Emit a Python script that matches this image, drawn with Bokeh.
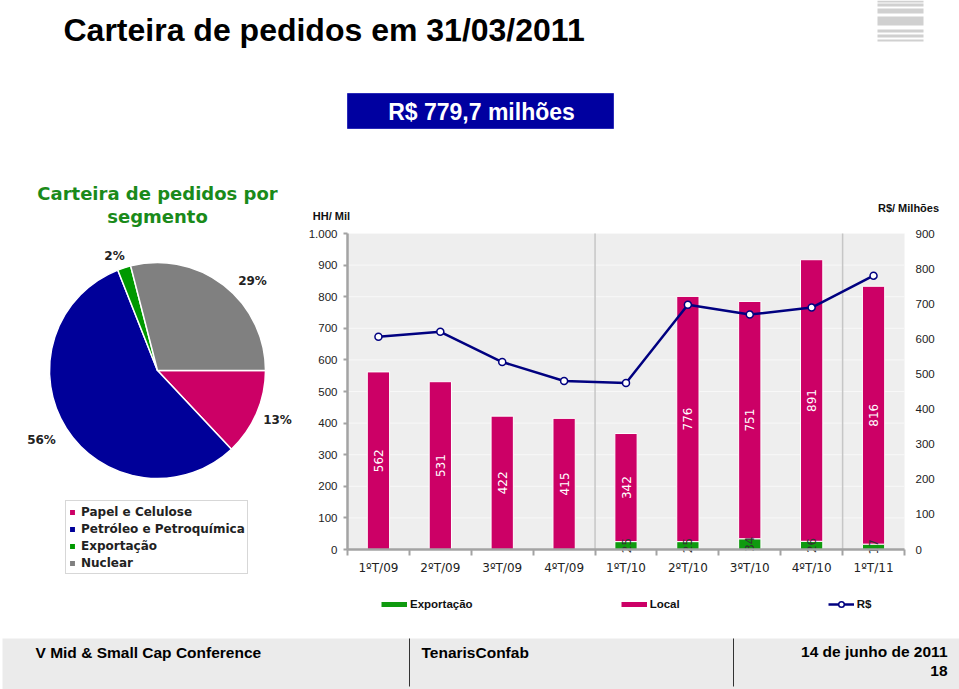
import math
from bokeh.plotting import figure
from bokeh.models import (Range1d, LinearAxis, FixedTicker, Legend, LegendItem,
                          ColumnDataSource)
from bokeh.embed import file_html
from bokeh.resources import INLINE
from bokeh.core.properties import value

# ---------------- data ----------------
page_title = "Carteira de pedidos em 31/03/2011"
banner_text = "R$ 779,7 milhões"

pie_title_lines = ["Carteira de pedidos por", "segmento"]
segments = ["Papel e Celulose", "Petróleo e Petroquímica", "Exportação", "Nuclear"]
segment_pct = [13, 56, 2, 29]
segment_colors = ["#cc0066", "#000099", "#009900", "#808080"]

quarters = ["1ºT/09", "2ºT/09", "3ºT/09", "4ºT/09", "1ºT/10",
            "2ºT/10", "3ºT/10", "4ºT/10", "1ºT/11"]
hh_export = [0, 0, 0, 0, 25, 25, 34, 26, 17]
hh_local = [562, 531, 422, 415, 342, 776, 751, 891, 816]
rs_value = [606, 620, 534, 480, 474, 697, 669, 689, 780]
series_names = ["Exportação", "Local", "R$"]

hh_ticks = [0, 100, 200, 300, 400, 500, 600, 700, 800, 900, 1000]
hh_tick_labels = ["0", "100", "200", "300", "400", "500", "600", "700", "800", "900", "1.000"]
rs_ticks = [0, 100, 200, 300, 400, 500, 600, 700, 800, 900]
rs_tick_labels = ["0", "100", "200", "300", "400", "500", "600", "700", "800", "900"]
left_axis_title = "HH/ Mil"
right_axis_title = "R$/ Milhões"

footer_left = "V Mid & Small Cap Conference"
footer_mid = "TenarisConfab"
footer_date = "14 de junho de 2011"
footer_page = "18"

# ---------------- styles / layout ----------------
GREEN = "#0f9a0f"
MAGENTA = "#cc0066"
NAVY = "#000080"
AXIS_GRAY = "#a3a3a3"
SANS = "Liberation Sans"
VERD = "DejaVu Sans"

FIG_W, FIG_H = 959, 689
PLOT_L, PLOT_R, PLOT_T, PLOT_B = 347, 904, 233, 549   # bar-chart plot area on the page
HH_MAX = hh_ticks[-1]
RS_MAX = rs_ticks[-1]
n = len(quarters)
cat_px = (PLOT_R - PLOT_L) / n
hh_px = (PLOT_B - PLOT_T) / HH_MAX
rs_px = (PLOT_B - PLOT_T) / RS_MAX

p = figure(width=FIG_W, height=FIG_H,
           x_range=Range1d(-PLOT_L / cat_px, (FIG_W - PLOT_L) / cat_px),
           y_range=Range1d(-(FIG_H - PLOT_B) / hh_px, PLOT_B / hh_px),
           x_axis_type=None, y_axis_type=None, toolbar_location=None,
           output_backend="svg", min_border=0, outline_line_color=None)
p.background_fill_color = "white"
p.border_fill_color = "white"
p.extra_y_ranges = {"rs": Range1d(-(FIG_H - PLOT_B) / rs_px, PLOT_B / rs_px),
                    "py": Range1d(0, FIG_H)}
p.extra_x_ranges = {"px": Range1d(0, FIG_W)}

# page-pixel helpers for decorations (y measured from top of page)
PX = dict(x_range_name="px", y_range_name="py")
Y = lambda ry: FIG_H - ry

# ---------------- header ----------------
logo_bands = [(0, 2), (3, 6), (8, 13), (16, 25), (29, 32), (34, 37), (39, 41)]
p.quad(left=[877] * len(logo_bands), right=[923] * len(logo_bands),
       top=[Y(a) for a, b in logo_bands], bottom=[Y(b) for a, b in logo_bands],
       fill_color="#d0d0d0", line_color=None, **PX)

p.text(x=[63], y=[Y(29)], text=[page_title], text_font=value(SANS),
       text_font_style="bold", text_font_size="32px", text_baseline="middle",
       text_align="left", text_color="black", **PX)

p.quad(left=[347], right=[613], top=[Y(93)], bottom=[Y(128)],
       fill_color="#0000a0", line_color="#2a2ab8", line_width=1, **PX)
p.text(x=[481], y=[Y(111)], text=[banner_text], text_font=value(SANS),
       text_font_style="bold", text_font_size="23px", text_baseline="middle",
       text_align="center", text_color="white", **PX)

# ---------------- pie ----------------
cum_end, run = [], 0
for v in segment_pct:
    run += v
    cum_end.append(run)
total = float(run)
cum_start = [e - v for e, v in zip(cum_end, segment_pct)]
pie_src = ColumnDataSource(dict(
    seg=segments, pct=segment_pct, color=segment_colors,
    start=[-2 * math.pi * e / total for e in cum_end],
    end=[-2 * math.pi * s / total for s in cum_start]))
wedges = p.wedge(x=157, y=Y(370), radius=108, start_angle="start", end_angle="end",
                 fill_color="color", line_color="white", line_width=1.5,
                 source=pie_src, **PX)

for i, line in enumerate(pie_title_lines):
    p.text(x=[157], y=[Y(193 + 23 * i)], text=[line], text_font=value(VERD),
           text_font_style="bold", text_font_size="18px", text_align="center",
           text_baseline="middle", text_color="#1a8a1a", **PX)

pie_label_xy = [(277, 419), (41, 439), (114, 255), (252, 280)]
p.text(x=[a for a, b in pie_label_xy], y=[Y(b) for a, b in pie_label_xy],
       text=[f"{v}%" for v in segment_pct], text_font=value(VERD), text_font_style="bold",
       text_font_size="12px", text_align="center", text_baseline="middle",
       text_color="#222222", **PX)

pie_legend = Legend(items=[LegendItem(label=s, renderers=[wedges], index=i)
                           for i, s in enumerate(segments)],
                    location=(65, FIG_H - 574), orientation="vertical",
                    glyph_width=8, glyph_height=8, label_height=17, spacing=0,
                    padding=2, margin=0, label_standoff=5,
                    label_text_font=VERD, label_text_font_style="bold",
                    label_text_font_size="12px", label_text_color="#222222",
                    border_line_color="#b0b0b0", border_line_width=1.5,
                    background_fill_color="white", background_fill_alpha=1)
p.add_layout(pie_legend)

# ---------------- bar chart ----------------
xs = [i + 0.5 for i in range(n)]
p.quad(left=[0], right=[n], bottom=[0], top=[HH_MAX], fill_color="#eeeeee",
       line_color=None)
p.segment(x0=[0] * len(hh_ticks), x1=[n] * len(hh_ticks), y0=hh_ticks, y1=hh_ticks,
          line_color="#f8f8f8", line_width=1)
year_breaks = [i for i in range(1, n) if quarters[i][-2:] != quarters[i - 1][-2:]]
p.segment(x0=year_breaks, x1=year_breaks, y0=[0] * len(year_breaks),
          y1=[HH_MAX] * len(year_breaks), line_color="#c6c6c6", line_width=1.5)

src = ColumnDataSource(dict(
    x=xs, q=quarters, exp=hh_export, loc=hh_local, rs=rs_value,
    mid=[e + l / 2 for e, l in zip(hh_export, hh_local)],
    loc_lbl=[str(v) for v in hh_local]))
exp_idx = [i for i, e in enumerate(hh_export) if e > 0]
exp_src = ColumnDataSource(dict(x=[xs[i] for i in exp_idx],
                                y=[hh_export[i] / 2 for i in exp_idx],
                                lbl=[str(hh_export[i]) for i in exp_idx]))

p.vbar_stack(["exp", "loc"], x="x", width=0.36, fill_color=[GREEN, MAGENTA],
             line_color="white", line_width=1, source=src)
p.text(x="x", y="mid", text="loc_lbl", angle=math.pi / 2, text_align="center",
       text_baseline="middle", text_color="white", text_font=value(VERD),
       text_font_size="12px", source=src)
p.text(x="x", y="y", text="lbl", angle=math.pi / 2, text_align="center",
       text_baseline="middle", text_color="#333333", text_font=value(VERD),
       text_font_size="12px", source=exp_src)

rs_line = p.line(x="x", y="rs", y_range_name="rs", line_color=NAVY, line_width=2.5,
                 source=src)
rs_pts = p.scatter(x="x", y="rs", y_range_name="rs", marker="circle", size=7,
                   fill_color="white", line_color=NAVY, line_width=1.5, source=src)

left_axis = LinearAxis(ticker=FixedTicker(ticks=hh_ticks), fixed_location=0,
                       bounds=(0, HH_MAX),
                       major_label_overrides=dict(zip(hh_ticks, hh_tick_labels)),
                       axis_line_color=AXIS_GRAY, axis_line_width=2.5,
                       major_tick_line_color=AXIS_GRAY, major_tick_line_width=2,
                       major_tick_in=0, major_tick_out=4, minor_tick_line_color=None,
                       major_label_standoff=6, major_label_text_font=SANS,
                       major_label_text_font_size="11.5px", major_label_text_color="#222222")
p.add_layout(left_axis, "left")

right_axis = LinearAxis(y_range_name="rs", ticker=FixedTicker(ticks=rs_ticks),
                        fixed_location=n, bounds=(0, RS_MAX),
                        major_label_overrides=dict(zip(rs_ticks, rs_tick_labels)),
                        axis_line_color=None, major_tick_line_color=None,
                        major_tick_in=0, major_tick_out=0, minor_tick_line_color=None,
                        major_label_standoff=11, major_label_text_font=SANS,
                        major_label_text_font_size="11.5px", major_label_text_color="#222222")
p.add_layout(right_axis, "right")

x_axis = LinearAxis(ticker=FixedTicker(ticks=xs, minor_ticks=list(range(n + 1))),
                    fixed_location=0, bounds=(0, n),
                    major_label_overrides=dict(zip(xs, quarters)),
                    axis_line_color=AXIS_GRAY, axis_line_width=2.5,
                    major_tick_line_color=None, major_tick_in=0, major_tick_out=0,
                    minor_tick_line_color=AXIS_GRAY, minor_tick_line_width=2,
                    minor_tick_in=0, minor_tick_out=6, major_label_standoff=5,
                    major_label_text_font=VERD, major_label_text_font_size="12px",
                    major_label_text_color="#222222")
p.add_layout(x_axis, "below")

p.text(x=[331, 908], y=[Y(215), Y(207)], text=[left_axis_title, right_axis_title],
       text_align="center", text_baseline="middle", text_font=value(SANS),
       text_font_style="bold", text_font_size="11px", text_color="#111111", **PX)

# legend swatches: hidden copies of the series drawn as thick lines
proxy_exp = p.line(x="x", y="exp", line_color=GREEN, line_width=5, source=src,
                   visible=False)
proxy_loc = p.line(x="x", y="loc", line_color=MAGENTA, line_width=5, source=src,
                   visible=False)
bar_legend = Legend(items=[LegendItem(label=series_names[0], renderers=[proxy_exp]),
                           LegendItem(label=series_names[1], renderers=[proxy_loc]),
                           LegendItem(label=series_names[2], renderers=[rs_line, rs_pts])],
                    orientation="horizontal", location=(381, FIG_H - 611), spacing=148,
                    glyph_width=26, glyph_height=14, label_height=14, label_standoff=3,
                    padding=0, margin=0, border_line_color=None, background_fill_alpha=0,
                    inactive_fill_alpha=0, click_policy="none",
                    label_text_font=SANS, label_text_font_style="bold",
                    label_text_font_size="11.5px", label_text_color="#111111")
p.add_layout(bar_legend)

# ---------------- footer ----------------
p.quad(left=[2], right=[FIG_W + 5], top=[Y(638)], bottom=[Y(692)],
       fill_color="#ebebeb", line_color=None, **PX)
p.segment(x0=[409, 733], x1=[409, 733], y0=[Y(638)] * 2, y1=[Y(686)] * 2,
          line_color="#333333", line_width=1, **PX)
p.text(x=[35, 421], y=[Y(652), Y(652)], text=[footer_left, footer_mid],
       text_font=value(SANS), text_font_style="bold", text_font_size="15.5px",
       text_align="left", text_baseline="middle", text_color="black", **PX)
p.text(x=[947, 947], y=[Y(651), Y(670)], text=[footer_date, footer_page],
       text_font=value(SANS), text_font_style="bold", text_font_size="15.5px",
       text_align="right", text_baseline="middle", text_color="black", **PX)

open("out.html", "w").write(file_html(p, INLINE))
